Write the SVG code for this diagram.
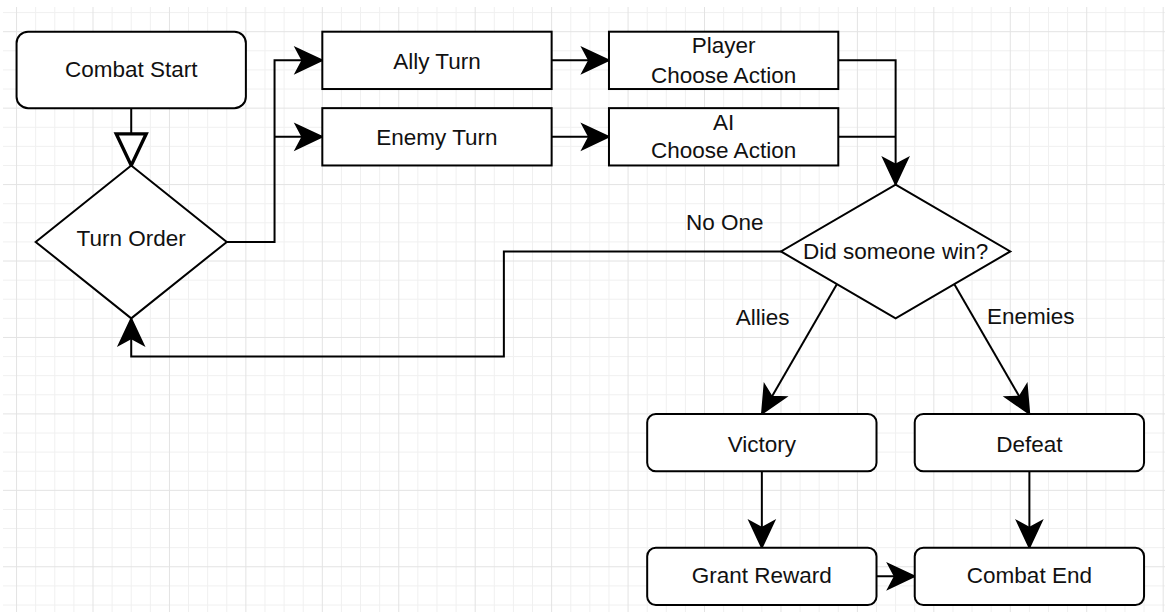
<svg xmlns="http://www.w3.org/2000/svg" width="1165" height="612" viewBox="0 0 1165 612">
<style>
.minor{fill:none;stroke:#f0f0f0;stroke-width:1}
.major{fill:none;stroke:#e3e3e3;stroke-width:1}
.node{fill:#fff;stroke:#000;stroke-width:2}
.lbl{font-family:"Liberation Sans",Arial,sans-serif;font-size:22.5px;fill:#111;text-anchor:middle}
.edge{fill:none;stroke:#000;stroke-width:2}
</style>
<defs>
<marker id="arr" markerUnits="userSpaceOnUse" markerWidth="40" markerHeight="40" viewBox="-20 -10 24 20" refX="0" refY="0" orient="auto" overflow="visible">
<path d="M0,0 L-16,-7.5 L-12,0 L-16,7.5 Z" fill="#000" stroke="#000" stroke-width="1" stroke-linejoin="miter"/>
</marker>
<marker id="tri" markerUnits="userSpaceOnUse" markerWidth="40" markerHeight="40" viewBox="-22 -12 24 24" refX="0" refY="0" orient="auto" overflow="visible">
<path d="M0,0 L-19,-9 L-19,9 Z" fill="#fff" stroke="#000" stroke-width="2" stroke-linejoin="miter"/>
</marker>
</defs>
<rect width="1165" height="612" fill="#fff"/>
<g id="grid">
<path class="minor" d="M35.67 7V612M54.78 7V612M73.89 7V612M112.11 7V612M131.22 7V612M150.33 7V612M188.55 7V612M207.66 7V612M226.77 7V612M264.99 7V612M284.1 7V612M303.21 7V612M341.43 7V612M360.54 7V612M379.65 7V612M417.87 7V612M436.98 7V612M456.09 7V612M494.31 7V612M513.42 7V612M532.53 7V612M570.75 7V612M589.86 7V612M608.97 7V612M647.19 7V612M666.3 7V612M685.41 7V612M723.63 7V612M742.74 7V612M761.85 7V612M800.07 7V612M819.18 7V612M838.29 7V612M876.51 7V612M895.62 7V612M914.73 7V612M952.95 7V612M972.06 7V612M991.17 7V612M1029.39 7V612M1048.5 7V612M1067.61 7V612M1105.83 7V612M1124.94 7V612M1144.05 7V612
M3 12.59H1165M3 50.81H1165M3 69.92H1165M3 89.03H1165M3 127.25H1165M3 146.36H1165M3 165.47H1165M3 203.69H1165M3 222.8H1165M3 241.91H1165M3 280.13H1165M3 299.24H1165M3 318.35H1165M3 356.57H1165M3 375.68H1165M3 394.79H1165M3 433.01H1165M3 452.12H1165M3 471.23H1165M3 509.45H1165M3 528.56H1165M3 547.67H1165M3 585.89H1165M3 605H1165"/>
<path class="major" d="M16.56 7V612M93 7V612M169.44 7V612M245.88 7V612M322.32 7V612M398.76 7V612M475.2 7V612M551.64 7V612M628.08 7V612M704.52 7V612M780.96 7V612M857.4 7V612M933.84 7V612M1010.28 7V612M1086.72 7V612M1163.16 7V612
M3 31.7H1165M3 108.14H1165M3 184.58H1165M3 261.02H1165M3 337.46H1165M3 413.9H1165M3 490.34H1165M3 566.78H1165"/>
</g>
<g id="connectors">
<path class="edge" d="M131.22 108.14V165.47" marker-end="url(#tri)"/>
<path class="edge" d="M226.77 241.91H274.55V60.37H322.32" marker-end="url(#arr)"/>
<path class="edge" d="M274.55 136.81H322.32" marker-end="url(#arr)"/>
<path class="edge" d="M551.64 60.37H608.97" marker-end="url(#arr)"/>
<path class="edge" d="M551.64 136.81H608.97" marker-end="url(#arr)"/>
<path class="edge" d="M838.29 60.37H895.62V184.58" marker-end="url(#arr)"/>
<path class="edge" d="M838.29 136.81H895.62"/>
<path class="edge" d="M780.96 251.47H503.87V356.57H131.22V318.35" marker-end="url(#arr)"/>
<path class="edge" d="M836.7 284.5L761.85 413.9" marker-end="url(#arr)"/>
<path class="edge" d="M954.5 284.5L1029.39 413.9" marker-end="url(#arr)"/>
<path class="edge" d="M761.85 471.23V547.67" marker-end="url(#arr)"/>
<path class="edge" d="M1029.39 471.23V547.67" marker-end="url(#arr)"/>
<path class="edge" d="M876.51 576.34H914.73" marker-end="url(#arr)"/>
<text class="lbl" x="724.7" y="230">No One</text>
<text class="lbl" x="762.7" y="325">Allies</text>
<text class="lbl" x="1030.7" y="324">Enemies</text>
</g>
<g id="combat-start">
<rect class="node" x="16.56" y="31.7" width="229.32" height="76.44" rx="11.5" ry="11.5"/>
<text class="lbl" x="131.22" y="77.3">Combat Start</text>
</g>
<g id="turn-order">
<path class="node" d="M131.22 165.47L226.77 241.91L131.22 318.35L35.67 241.91Z"/>
<text class="lbl" x="131.22" y="245.5">Turn Order</text>
</g>
<g id="ally-turn">
<rect class="node" x="322.32" y="31.7" width="229.32" height="57.33"/>
<text class="lbl" x="436.98" y="69">Ally Turn</text>
</g>
<g id="enemy-turn">
<rect class="node" x="322.32" y="108.14" width="229.32" height="57.33"/>
<text class="lbl" x="436.98" y="145">Enemy Turn</text>
</g>
<g id="player-choose">
<rect class="node" x="608.97" y="31.7" width="229.32" height="57.33"/>
<text class="lbl" x="723.63" y="53.3">Player</text>
<text class="lbl" x="723.63" y="83.3">Choose Action</text>
</g>
<g id="ai-choose">
<rect class="node" x="608.97" y="108.14" width="229.32" height="57.33"/>
<text class="lbl" x="723.63" y="130">AI</text>
<text class="lbl" x="723.63" y="158.3">Choose Action</text>
</g>
<g id="did-someone-win">
<path class="node" d="M895.62 184.58L1010.28 251.47L895.62 318.35L780.96 251.47Z"/>
<text class="lbl" x="895.62" y="259.3">Did someone win?</text>
</g>
<g id="victory">
<rect class="node" x="647.19" y="413.9" width="229.32" height="57.33" rx="8.6" ry="8.6"/>
<text class="lbl" x="761.85" y="451.7">Victory</text>
</g>
<g id="defeat">
<rect class="node" x="914.73" y="413.9" width="229.32" height="57.33" rx="8.6" ry="8.6"/>
<text class="lbl" x="1029.39" y="451.7">Defeat</text>
</g>
<g id="grant-reward">
<rect class="node" x="647.19" y="547.67" width="229.32" height="57.33" rx="8.6" ry="8.6"/>
<text class="lbl" x="761.85" y="583.3">Grant Reward</text>
</g>
<g id="combat-end">
<rect class="node" x="914.73" y="547.67" width="229.32" height="57.33" rx="8.6" ry="8.6"/>
<text class="lbl" x="1029.39" y="583">Combat End</text>
</g>
</svg>
